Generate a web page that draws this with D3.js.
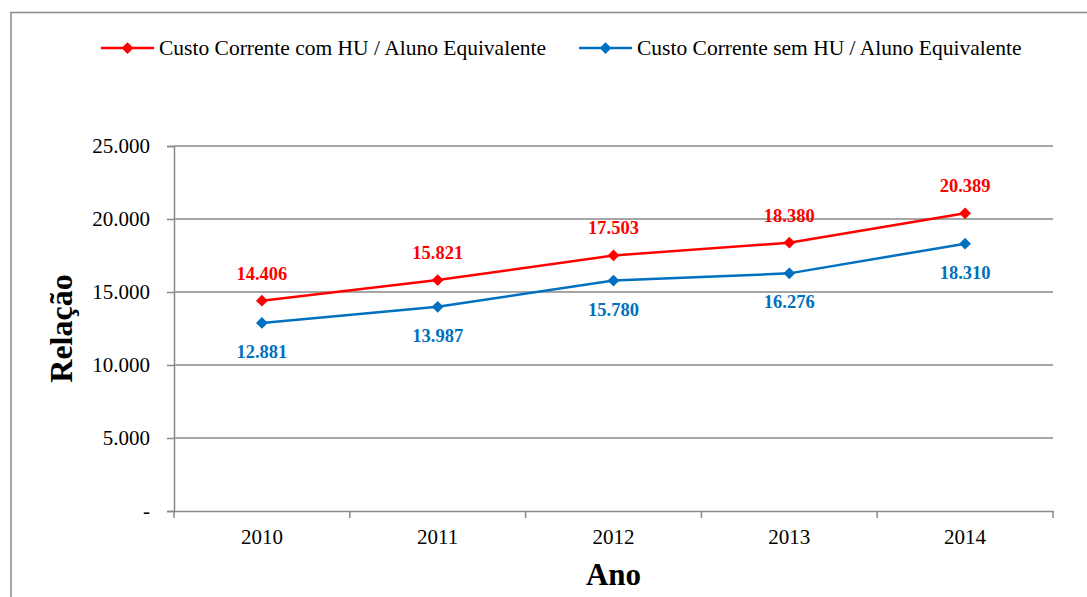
<!DOCTYPE html>
<html>
<head>
<meta charset="utf-8">
<script src="https://cdn.jsdelivr.net/npm/d3@7"></script>
<style>
  html, body { margin: 0; padding: 0; background: #fff; }
  svg { display: block; font-family: "Liberation Serif", "Times New Roman", serif; }
  svg text { font-family: "Liberation Serif", "Times New Roman", serif; }
</style>
</head>
<body>
<svg id="chart" width="1087" height="597"></svg>
<script>
// Anos e valores por aluno equivalente
const anos = ["2010", "2011", "2012", "2013", "2014"];
const comHU = [14406, 15821, 17503, 18380, 20389];
const semHU = [12881, 13987, 15780, 16276, 18310];
const yTicks = [0, 5000, 10000, 15000, 20000, 25000];
const seriesNames = ["Custo Corrente com HU / Aluno Equivalente", "Custo Corrente sem HU / Aluno Equivalente"];
const seriesColors = ["#FF0000", "#0070C0"];

const svg = d3.select("#chart");
const W = 1087, H = 597;
const plot = { left: 174, right: 1053, top: 146, bottom: 511 };
const gridColor = "#898989";

// Moldura do gráfico
svg.append("rect")
  .attr("x", 11).attr("y", 12.5)
  .attr("width", W + 20).attr("height", H + 20)
  .attr("fill", "none").attr("stroke", gridColor).attr("stroke-width", 1.5);

const x = d3.scaleBand().domain(anos).range([plot.left, plot.right]).padding(0);
const y = d3.scaleLinear().domain([0, 25000]).range([plot.bottom, plot.top]);

const fmt = v => v === 0 ? "-" : d3.format(",")(v).replace(/,/g, ".");

// Linhas de grade horizontais
svg.append("g")
  .selectAll("line").data(yTicks.filter(d => d > 0)).join("line")
  .attr("x1", plot.left).attr("x2", plot.right)
  .attr("y1", d => y(d)).attr("y2", d => y(d))
  .attr("stroke", gridColor).attr("stroke-width", 1.5);

// Eixo Y
const yAxis = svg.append("g")
  .attr("transform", `translate(${plot.left},0)`)
  .call(d3.axisLeft(y).tickValues(yTicks).tickSize(7).tickPadding(17).tickFormat(fmt));
yAxis.attr("font-family", null).attr("font-size", null);
yAxis.select(".domain").attr("stroke", gridColor).attr("stroke-width", 1.5);
yAxis.selectAll(".tick line").attr("stroke", gridColor).attr("stroke-width", 1.5);
yAxis.selectAll(".tick text")
  .attr("fill", "#000").style("font-size", "21px");

// Eixo X
const xAxis = svg.append("g")
  .attr("transform", `translate(0,${plot.bottom})`)
  .call(d3.axisBottom(x).tickSize(0).tickPadding(18));
xAxis.attr("font-family", null).attr("font-size", null);
xAxis.select(".domain").attr("stroke", gridColor).attr("stroke-width", 1.5);
xAxis.selectAll(".tick text")
  .attr("fill", "#000").style("font-size", "21px");

// Marcas entre as categorias
const bounds = anos.map(a => x(a)).concat([x(anos[anos.length - 1]) + x.bandwidth()]);
svg.append("g").selectAll("line").data(bounds).join("line")
  .attr("x1", d => d).attr("x2", d => d)
  .attr("y1", plot.bottom).attr("y2", plot.bottom + 7)
  .attr("stroke", gridColor).attr("stroke-width", 1.5);

const cx = a => x(a) + x.bandwidth() / 2;
const diamond = d3.symbol().type(d3.symbolDiamond2).size(88);

function drawSeries(values, color, above) {
  const pts = anos.map((a, i) => ({ a, v: values[i] }));
  svg.append("path").datum(pts)
    .attr("fill", "none").attr("stroke", color).attr("stroke-width", 2.5)
    .attr("d", d3.line().x(d => cx(d.a)).y(d => y(d.v)));
  svg.append("g").selectAll("path").data(pts).join("path")
    .attr("d", diamond)
    .attr("transform", d => `translate(${cx(d.a)},${y(d.v)})`)
    .attr("fill", color);
  svg.append("g").selectAll("text").data(pts).join("text")
    .attr("x", d => cx(d.a))
    .attr("y", d => y(d.v) + (above ? -21 : 35))
    .attr("text-anchor", "middle")
    .attr("fill", color)
    .style("font-size", "18.5px").style("font-weight", "bold")
    .text(d => fmt(d.v));
}
drawSeries(comHU, seriesColors[0], true);
drawSeries(semHU, seriesColors[1], false);

// Títulos dos eixos
svg.append("text")
  .attr("transform", `translate(72,${(plot.top + plot.bottom) / 2}) rotate(-90)`)
  .attr("text-anchor", "middle")
  .style("font-size", "32px").style("font-weight", "bold")
  .text("Relação");
svg.append("text")
  .attr("x", (plot.left + plot.right) / 2).attr("y", 585)
  .attr("text-anchor", "middle")
  .style("font-size", "31px").style("font-weight", "bold")
  .text("Ano");

// Legenda
const legendX = [101, 579];
const leg = svg.append("g");
seriesNames.forEach((name, i) => {
  const g = leg.append("g").attr("transform", `translate(${legendX[i]},48)`);
  g.append("line").attr("x1", 0).attr("x2", 53).attr("y1", 0).attr("y2", 0)
    .attr("stroke", seriesColors[i]).attr("stroke-width", 2.5);
  g.append("path").attr("d", diamond).attr("transform", "translate(26.5,0)")
    .attr("fill", seriesColors[i]);
  g.append("text").attr("x", 58).attr("y", 7)
    .style("font-size", "21.5px")
    .text(name);
});
</script>
</body>
</html>
